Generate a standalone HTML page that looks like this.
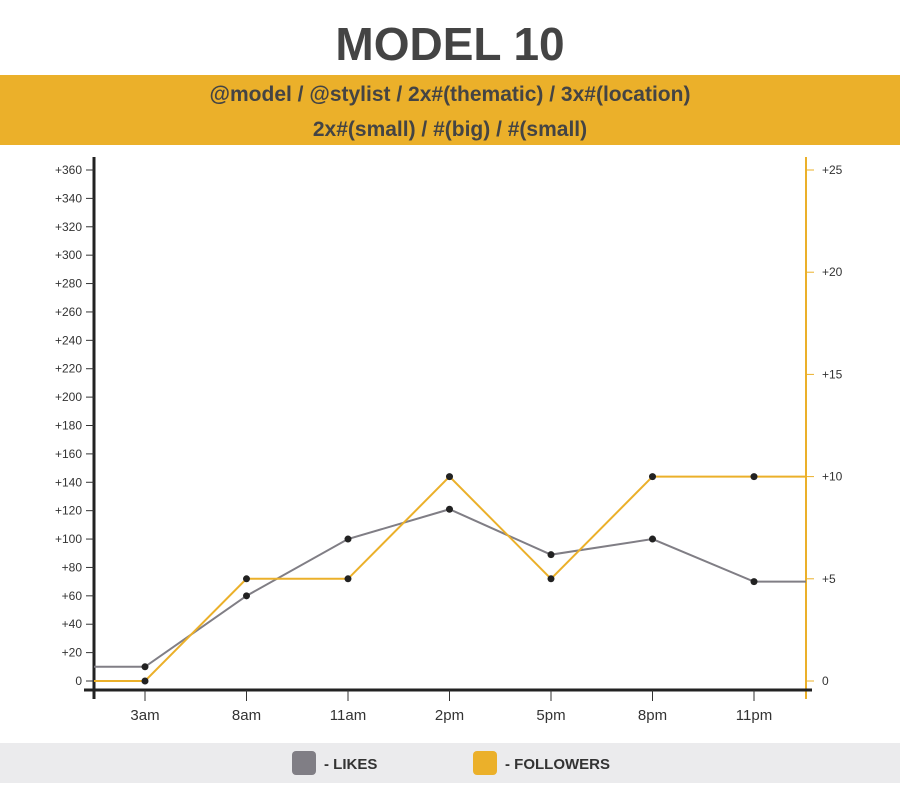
<!DOCTYPE html>
<html><head><meta charset="utf-8"><style>
body{margin:0;background:#fff;font-family:"Liberation Sans",sans-serif;}
#wrap{position:relative;width:900px;height:800px;overflow:hidden;}
</style></head><body>
<div id="wrap">
<svg id="svg" width="900" height="800" xmlns="http://www.w3.org/2000/svg">
<text x="450" y="60" text-anchor="middle" font-size="46" font-weight="bold" fill="#444" font-family="Liberation Sans, sans-serif">MODEL 10</text>
<rect x="0" y="75" width="900" height="70" fill="#ebb02a"/>
<text x="450" y="101" text-anchor="middle" font-size="21" font-weight="bold" fill="#444">@model / @stylist / 2x#(thematic) / 3x#(location)</text>
<text x="450" y="136" text-anchor="middle" font-size="21" font-weight="bold" fill="#444">2x#(small) / #(big) / #(small)</text>
<g id="plot"></g>
<rect x="0" y="743" width="900" height="40" fill="#ebebed"/>
<g><rect x="292" y="751" width="24" height="24" rx="4" fill="#807e85"/><text x="324" y="769" font-size="15" font-weight="bold" fill="#333">- LIKES</text></g>
<g><rect x="473" y="751" width="24" height="24" rx="4" fill="#ebb02a"/><text x="505" y="769" font-size="15" font-weight="bold" fill="#333">- FOLLOWERS</text></g>
</svg>
</div>
<script>
const categories=["3am","8am","11am","2pm","5pm","8pm","11pm"];
const likes=[10,60,100,121,89,100,70];
const followers=[0,5,5,10,5,10,10];
const likesStart=10, likesEnd=70, followersStart=0, followersEnd=10;
const leftTicks=[0,20,40,60,80,100,120,140,160,180,200,220,240,260,280,300,320,340,360];
const rightTicks=[0,5,10,15,20,25];

const NS="http://www.w3.org/2000/svg";
const g=document.getElementById('plot');
const X0=94,X1=806,Y0=681,Ytop=170;
const xCat=i=>145+i*101.5;
const yL=v=>Y0-(v/360)*(Y0-Ytop);
const yR=v=>Y0-(v/25)*(Y0-Ytop);
function el(t,a){const e=document.createElementNS(NS,t);for(const k in a)e.setAttribute(k,a[k]);g.appendChild(e);return e;}
function lbl(v){return v===0?"0":"+"+v;}
// left axis
let e=el('line',{x1:X0,y1:157,x2:X0,y2:699,stroke:'#222','stroke-width':3});


leftTicks.forEach(v=>{
 let t=el('line',{x1:X0-8,y1:yL(v),x2:X0,y2:yL(v),stroke:'#333','stroke-width':1});
 
 
 let tx=el('text',{x:X0-12,y:yL(v)+4,'text-anchor':'end','font-size':12,fill:'#333'});tx.textContent=lbl(v);
 
 
});
// right axis
e=el('line',{x1:X1,y1:157,x2:X1,y2:699,stroke:'#ebb02a','stroke-width':2});


rightTicks.forEach(v=>{
 let t=el('line',{x1:X1,y1:yR(v),x2:X1+8,y2:yR(v),stroke:'#ebb02a','stroke-width':1});
 
 
 let tx=el('text',{x:X1+16,y:yR(v)+4,'font-size':12,fill:'#333'});tx.textContent=lbl(v);
 
 
});
// x axis
e=el('line',{x1:84,y1:690,x2:812,y2:690,stroke:'#222','stroke-width':3});


categories.forEach((c,i)=>{
 let t=el('line',{x1:xCat(i),y1:690,x2:xCat(i),y2:701,stroke:'#333','stroke-width':1});
 
 
 let tx=el('text',{x:xCat(i),y:720,'text-anchor':'middle','font-size':15,fill:'#333'});tx.textContent=c;
 
 
});
function series(vals,s,en,yf,color,name){
 let pts=[[X0,yf(s)]].concat(vals.map((v,i)=>[xCat(i),yf(v)])).concat([[X1,yf(en)]]);
 let p=el('polyline',{points:pts.map(q=>q.join(',')).join(' '),fill:'none',stroke:color,'stroke-width':2});
 
 
 vals.forEach((v,i)=>{
  let c=el('circle',{cx:xCat(i),cy:yf(v),r:3.5,fill:'#222'});
  
  
 });
}
series(likes,likesStart,likesEnd,yL,'#807e85','likes');
series(followers,followersStart,followersEnd,yR,'#ebb02a','followers');
</script>
</body></html>
